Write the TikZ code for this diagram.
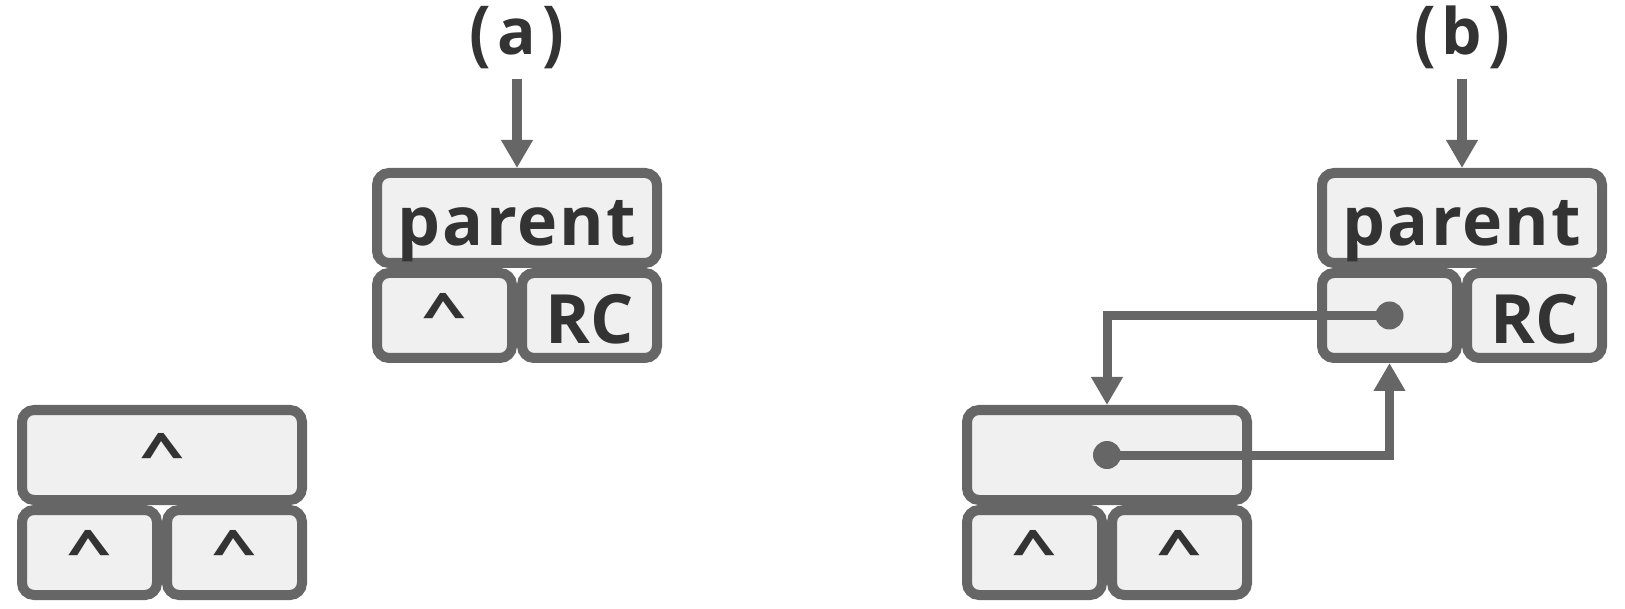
\documentclass[tikz,border=0pt]{standalone}
\usepackage{fontspec}
\usepackage{graphicx}
\setmainfont{Open Sans}
\usetikzlibrary{arrows.meta}
\definecolor{lc}{HTML}{666666}
\definecolor{fc}{HTML}{F0F0F0}
\definecolor{tc}{HTML}{333333}
\newcommand\crt{\raisebox{11pt}{\scalebox{1.15}[0.8]{\textasciicircum}}}
\newcommand\lparen{\raisebox{-3pt}{\scalebox{1}[1.12]{(}}}
\newcommand\rparen{\raisebox{-3pt}{\scalebox{1}[1.12]{)}}}
\begin{document}
\begin{tikzpicture}[x=1pt,y=-1pt,
  cell/.style={draw=lc, fill=fc, line width=10pt, rounded corners=12pt, inner sep=0pt, text=tc,
    font=\fontsize{68}{68}\selectfont\bfseries, text height=58pt, text depth=2pt},
  topcell/.style={cell, minimum width=280pt, minimum height=90pt},
  subcell/.style={cell, minimum width=135pt, minimum height=85pt},
  arr/.style={draw=lc, line width=10pt, -{Triangle[length=28pt,width=30pt]}},
  link/.style={draw=lc, line width=9pt, -{Triangle[length=28pt,width=30pt]}},
  lab/.style={text=tc, font=\fontsize{64}{64}\selectfont\bfseries, inner sep=0pt, anchor=base},
]
\useasboundingbox (0,0) rectangle (1625,609);

% (a)
\node[topcell] (pa) at (517,218) {\addfontfeature{LetterSpace=3}parent};
\node[subcell] (pal) at (444.5,315.5) {\crt};
\node[subcell] (par) at (589.5,315.5) {RC};

% (b)
\node[topcell] (pb) at (1462,218) {\addfontfeature{LetterSpace=3}parent};
\node[subcell] (pbl) at (1389.5,315.5) {};
\node[subcell] (pbr) at (1534.5,315.5) {RC};

% left tree
\node[topcell] (lt) at (162,455) {\crt};
\node[subcell] (ltl) at (89.5,552.5) {\crt};
\node[subcell] (ltr) at (234.5,552.5) {\crt};

% right tree
\node[topcell] (rt) at (1107,455) {};
\node[subcell] (rtl) at (1034.5,552.5) {\crt};
\node[subcell] (rtr) at (1179.5,552.5) {\crt};

% labels
\node[lab] (la) at (517,55) {\lparen\hspace{6pt}a\hspace{6pt}\rparen};
\node[lab] (lb) at (1462,55) {\lparen\hspace{6pt}b\hspace{6pt}\rparen};
\draw[arr, shorten <=9pt] (la.south) -- (pa.north);
\draw[arr, shorten <=9pt] (lb.south) -- (pb.north);

% links
\draw[link] (pbl.center) -| (rt.north);
\draw[link] (rt.center) -| (pbl.south);
\fill[lc] (pbl.center) circle (14pt);
\fill[lc] (rt.center) circle (14pt);
\end{tikzpicture}
\end{document}
